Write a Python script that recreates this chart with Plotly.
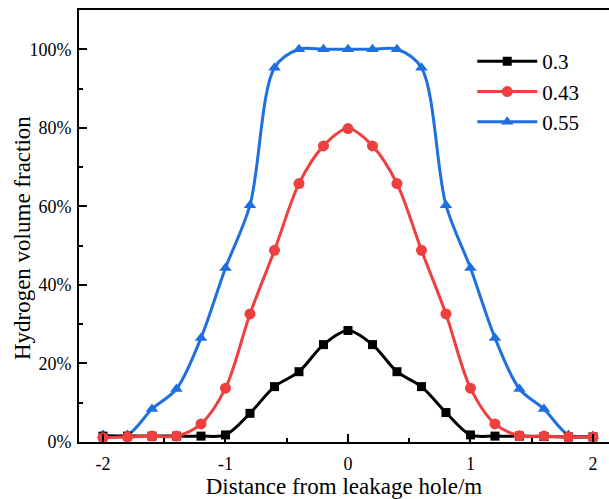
import plotly.graph_objects as go

x = [-2.0, -1.8, -1.6, -1.4, -1.2, -1.0, -0.8, -0.6, -0.4, -0.2, 0.0,
     0.2, 0.4, 0.6, 0.8, 1.0, 1.2, 1.4, 1.6, 1.8, 2.0]
y_03 = [1.5, 1.5, 1.5, 1.5, 1.5, 1.8, 7.3, 14.1, 17.9, 24.8, 28.4,
        24.8, 17.9, 14.1, 7.5, 1.8, 1.5, 1.5, 1.4, 1.3, 1.3]
y_043 = [1.1, 1.3, 1.5, 1.5, 4.6, 13.7, 32.6, 48.8, 65.8, 75.4, 79.8,
         75.4, 65.8, 48.8, 32.6, 13.7, 4.6, 1.6, 1.5, 1.3, 1.3]
y_055 = [1.8, 1.8, 8.4, 13.5, 26.5, 44.3, 60.3, 95.3, 100.0, 100.0, 100.0,
         100.0, 100.0, 95.3, 60.3, 44.3, 26.5, 13.5, 8.4, 1.8, 1.5]

names = ["0.3", "0.43", "0.55"]
colors = ["#000000", "#EF3F3F", "#1E6FE0"]
symbols = ["square", "circle", "triangle-up"]
msizes = [9, 11, 11]

series = [y_03, y_043, y_055]
fig = go.Figure()
for i in [2, 0, 1]:
    fig.add_trace(go.Scatter(
        x=x, y=series[i], name=names[i], mode="lines+markers",
        line=dict(color=colors[i], width=3, shape="spline", smoothing=0.9),
        marker=dict(symbol=symbols[i], size=msizes[i], color=colors[i]),
        legendrank=i + 1,
    ))

font = "Liberation Serif, Times New Roman, serif"
fig.update_layout(
    width=609, height=499,
    margin=dict(l=79, r=0, t=10, b=57),
    paper_bgcolor="white", plot_bgcolor="white",
    font=dict(family=font, color="black", size=18),
    showlegend=True,
    legend=dict(x=0.742, y=0.928, xanchor="left", yanchor="top",
                font=dict(family=font, size=21, color="black"),
                bgcolor="rgba(0,0,0,0)",
                itemwidth=60, tracegroupgap=0),
    xaxis=dict(
        range=[-2.196, 2.131], tickvals=[-2, -1, 0, 1, 2],
        ticktext=["-2", "-1", "0", "1", "2"],
        ticks="inside", ticklen=8, tickwidth=2, tickcolor="black",
        minor=dict(tickvals=[-1.5, -0.5, 0.5, 1.5], ticks="inside",
                   ticklen=4, tickwidth=2, tickcolor="black"),
        showline=True, linewidth=2, linecolor="black", mirror=True,
        showgrid=False, zeroline=False,
        tickfont=dict(family=font, size=18, color="black"),
        ticklabelstandoff=4,
        title=dict(text="Distance from leakage hole/m",
                   font=dict(family=font, size=23, color="black"),
                   standoff=3),
    ),
    yaxis=dict(
        range=[0, 110], tickvals=[0, 20, 40, 60, 80, 100],
        ticktext=["0%", "20%", "40%", "60%", "80%", "100%"],
        ticks="inside", ticklen=8, tickwidth=2, tickcolor="black",
        minor=dict(tickvals=[10, 30, 50, 70, 90], ticks="inside",
                   ticklen=4, tickwidth=2, tickcolor="black"),
        showline=True, linewidth=2, linecolor="black",
        showgrid=False, zeroline=False,
        tickfont=dict(family=font, size=18, color="black"),
        ticklabelstandoff=2,
    ),
    annotations=[dict(
        text="Hydrogen volume fraction", textangle=-90,
        xref="paper", yref="paper", x=-0.1075, y=0.472,
        xanchor="center", yanchor="middle", showarrow=False,
        font=dict(family=font, size=23, color="black"),
    )],
)
fig.write_html("out.html")
